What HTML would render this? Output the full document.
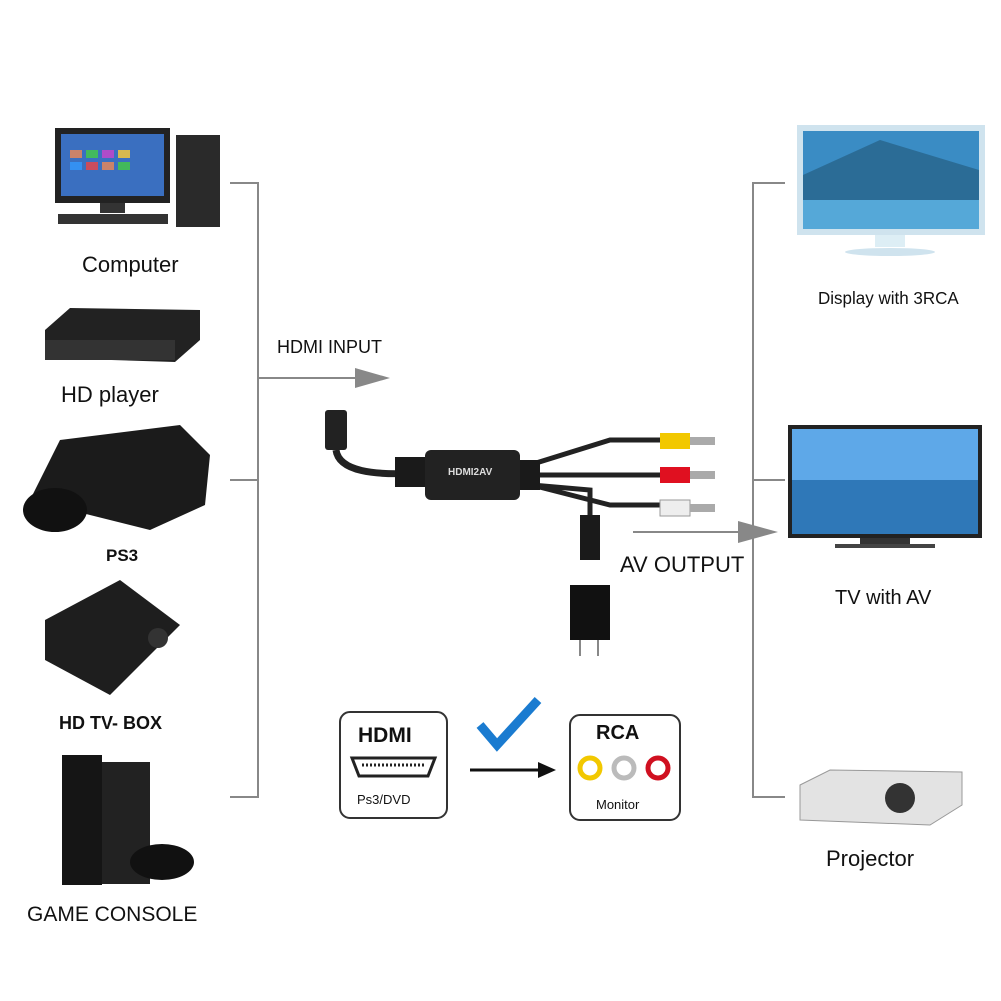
<!DOCTYPE html>
<html><head><meta charset="utf-8"><style>
body{margin:0;width:1001px;height:1001px;background:#fff;position:relative;overflow:hidden;font-family:"Liberation Sans",sans-serif;}
.t{position:absolute;color:#111;white-space:nowrap}
.a{position:absolute}
</style></head><body>
<svg class="a" style="left:0;top:0" width="1001" height="1001">
<g stroke="#888" stroke-width="2" fill="none">
<path d="M230 183H258V797H230M230 480H258M258 378H360"/>
<path d="M785 183H753V797H785M753 480H785M633 532H740"/>
</g>
<polygon points="355,368 390,378 355,388" fill="#888"/>
<polygon points="738,521 778,532 738,543" fill="#888"/>
<rect x="55" y="128" width="115" height="75" fill="#222"/>
<rect x="61" y="134" width="103" height="62" fill="#3a6fc0"/>
<g fill="#e85" opacity=".8"><rect x="70" y="150" width="12" height="8"/><rect x="86" y="150" width="12" height="8" fill="#4c4"/><rect x="102" y="150" width="12" height="8" fill="#c4c"/><rect x="118" y="150" width="12" height="8" fill="#fc3"/><rect x="70" y="162" width="12" height="8" fill="#39f"/><rect x="86" y="162" width="12" height="8" fill="#e44"/><rect x="102" y="162" width="12" height="8"/><rect x="118" y="162" width="12" height="8" fill="#4c4"/></g>
<rect x="100" y="203" width="25" height="10" fill="#333"/><rect x="58" y="214" width="110" height="10" fill="#333"/>
<rect x="176" y="135" width="44" height="92" fill="#2a2a2a"/>
<polygon points="45,330 70,308 200,310 200,340 175,362 45,358" fill="#222"/><rect x="45" y="340" width="130" height="20" fill="#333"/>
<polygon points="60,440 180,425 210,455 205,505 150,530 30,500" fill="#1b1b1b"/>
<ellipse cx="55" cy="510" rx="32" ry="22" fill="#111"/>
<polygon points="45,620 120,580 180,625 110,695 45,660" fill="#1e1e1e"/><circle cx="158" cy="638" r="10" fill="#333"/>
<rect x="62" y="755" width="40" height="130" fill="#151515"/><rect x="102" y="762" width="48" height="122" fill="#222"/>
<ellipse cx="162" cy="862" rx="32" ry="18" fill="#111"/>
<rect x="797" y="125" width="188" height="110" fill="#cfe3ee"/><rect x="803" y="131" width="176" height="98" fill="#3a8cc4"/>
<polygon points="803,175 880,140 979,170 979,229 803,229" fill="#2b6c96"/><rect x="803" y="200" width="176" height="29" fill="#55a8d8"/>
<rect x="875" y="235" width="30" height="12" fill="#ddeef5"/><ellipse cx="890" cy="252" rx="45" ry="4" fill="#cfe3ee"/>
<rect x="788" y="425" width="194" height="113" fill="#222"/><rect x="792" y="429" width="186" height="105" fill="#5ea8e8"/><rect x="792" y="480" width="186" height="54" fill="#2f78b8"/>
<rect x="860" y="538" width="50" height="6" fill="#333"/><rect x="835" y="544" width="100" height="4" fill="#444"/>
<polygon points="800,785 830,770 962,772 962,805 930,825 800,820" fill="#e3e3e3" stroke="#999"/><circle cx="900" cy="798" r="15" fill="#333"/>
<rect x="325" y="410" width="22" height="40" rx="3" fill="#222"/>
<path d="M336 450 Q340 480 430 472" stroke="#222" stroke-width="7" fill="none"/>
<path d="M520 468 L610 440 H665 M520 475 H665 M520 482 L610 505 H665 M532 485 L590 490 V520" stroke="#222" stroke-width="5" fill="none"/>
<rect x="395" y="457" width="40" height="30" fill="#1a1a1a"/><rect x="425" y="450" width="95" height="50" rx="6" fill="#222"/>
<rect x="520" y="460" width="20" height="30" fill="#1a1a1a"/>
<rect x="660" y="433" width="30" height="16" fill="#f2c800"/><rect x="690" y="437" width="25" height="8" fill="#aaa"/>
<rect x="660" y="467" width="30" height="16" fill="#e01020"/><rect x="690" y="471" width="25" height="8" fill="#aaa"/>
<rect x="660" y="500" width="30" height="16" fill="#eee" stroke="#999"/><rect x="690" y="504" width="25" height="8" fill="#aaa"/>
<rect x="580" y="515" width="20" height="45" fill="#1a1a1a"/>
<rect x="570" y="585" width="40" height="55" fill="#111"/><path d="M580 640V656M598 640V656" stroke="#888" stroke-width="2"/>
<rect x="340" y="712" width="107" height="106" rx="10" fill="none" stroke="#333" stroke-width="2"/>
<rect x="570" y="715" width="110" height="105" rx="10" fill="none" stroke="#333" stroke-width="2"/>
<path d="M352 758 H435 L428 776 H359 Z" fill="#fff" stroke="#222" stroke-width="3"/>
<path d="M362 765 H425" stroke="#222" stroke-width="3" stroke-dasharray="2 2"/>
<path d="M480 725 L497 745 L538 700" stroke="#1a7bd0" stroke-width="9" fill="none"/>
<path d="M470 770 H540" stroke="#111" stroke-width="3"/><polygon points="538,762 556,770 538,778" fill="#111"/>
<circle cx="590" cy="768" r="10" fill="none" stroke="#f2c800" stroke-width="5"/>
<circle cx="624" cy="768" r="10" fill="none" stroke="#bbb" stroke-width="5"/>
<circle cx="658" cy="768" r="10" fill="none" stroke="#d01020" stroke-width="5"/>
</svg>
<div class="t" style="left:82px;top:252px;font-size:22px">Computer</div>
<div class="t" style="left:61px;top:382px;font-size:22px">HD player</div>
<div class="t" style="left:106px;top:546px;font-size:17px;font-weight:bold">PS3</div>
<div class="t" style="left:59px;top:713px;font-size:18px;font-weight:bold">HD TV- BOX</div>
<div class="t" style="left:27px;top:903px;font-size:21px;letter-spacing:0">GAME CONSOLE</div>
<div class="t" style="left:277px;top:337px;font-size:18px">HDMI INPUT</div>
<div class="t" style="left:620px;top:552px;font-size:22px">AV OUTPUT</div>
<div class="t" style="left:818px;top:289px;font-size:17px;transform:scaleY(1.05)">Display with 3RCA</div>
<div class="t" style="left:835px;top:587px;font-size:20px">TV with AV</div>
<div class="t" style="left:826px;top:846px;font-size:22px">Projector</div>
<div class="t" style="left:448px;top:467px;font-size:10px;color:#ddd;font-weight:bold">HDMI2AV</div>
<div class="t" style="left:358px;top:724px;font-size:21px;font-weight:bold">HDMI</div>
<div class="t" style="left:357px;top:792px;font-size:13px">Ps3/DVD</div>
<div class="t" style="left:596px;top:722px;font-size:20px;font-weight:bold">RCA</div>
<div class="t" style="left:596px;top:797px;font-size:13px">Monitor</div>
</body></html>
